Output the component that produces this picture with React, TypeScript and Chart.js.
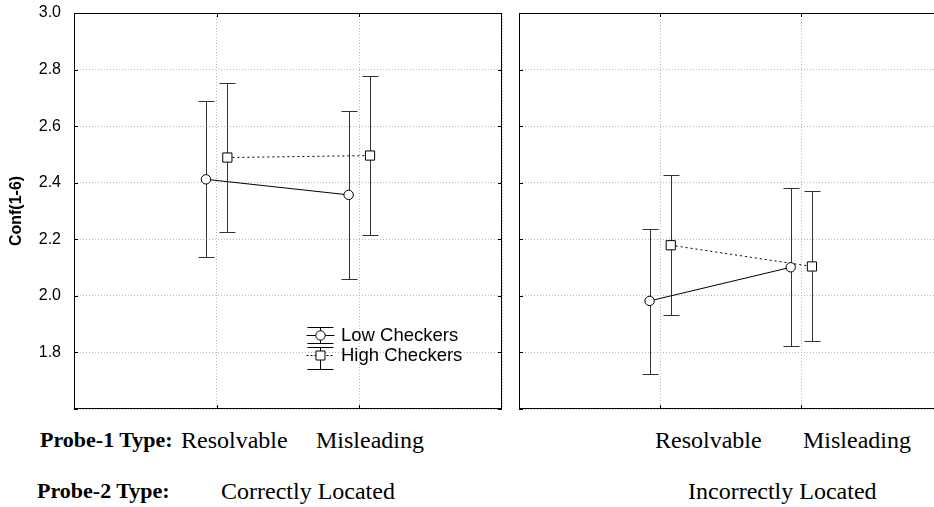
import React, { useEffect, useRef } from 'react';
import { Chart, registerables } from 'chart.js';

Chart.register(...registerables);

// ---- data ----
const categories = ['Resolvable', 'Misleading'];
const panels = ['Correctly Located', 'Incorrectly Located'];
const seriesNames = ['Low Checkers', 'High Checkers'];
const probe1Label = 'Probe-1 Type:';
const probe2Label = 'Probe-2 Type:';
const yLabel = 'Conf(1-6)';
const yTicks = [1.6, 1.8, 2.0, 2.2, 2.4, 2.6, 2.8, 3.0];
const xCategoryPositions = [1, 2];

// Correctly located panel
const lowCorrectMean = [2.412, 2.357];
const lowCorrectLo = [2.137, 2.061];
const lowCorrectHi = [2.69, 2.652];
const highCorrectMean = [2.489, 2.496];
const highCorrectLo = [2.227, 2.214];
const highCorrectHi = [2.752, 2.778];

// Incorrectly located panel
const lowIncorrectMean = [1.982, 2.101];
const lowIncorrectLo = [1.722, 1.822];
const lowIncorrectHi = [2.238, 2.38];
const highIncorrectMean = [2.179, 2.104];
const highIncorrectLo = [1.932, 1.839];
const highIncorrectHi = [2.426, 2.37];

const seriesOffset = 0.075;

const errorBarPlugin = {
  id: 'errorBars',
  beforeDatasetsDraw(chart: any) {
    const ctx = chart.ctx;
    const y = chart.scales.y;
    ctx.save();
    ctx.strokeStyle = '#333';
    ctx.lineWidth = 1;
    chart.data.datasets.forEach((ds: any, di: number) => {
      const meta = chart.getDatasetMeta(di);
      meta.data.forEach((pt: any, i: number) => {
        const x = Math.round(pt.x) + 0.5;
        const yl = Math.round(y.getPixelForValue(ds.errLo[i])) + 0.5;
        const yh = Math.round(y.getPixelForValue(ds.errHi[i])) + 0.5;
        ctx.beginPath();
        ctx.moveTo(x, yl);
        ctx.lineTo(x, yh);
        ctx.moveTo(x - 8, yl);
        ctx.lineTo(x + 8, yl);
        ctx.moveTo(x - 8, yh);
        ctx.lineTo(x + 8, yh);
        ctx.stroke();
      });
    });
    ctx.restore();
  },
};

const framePlugin = {
  id: 'frame',
  afterDraw(chart: any) {
    const ctx = chart.ctx;
    const { left, right, top, bottom } = chart.chartArea;
    const xs = chart.scales.x;
    const ys = chart.scales.y;
    ctx.save();
    ctx.strokeStyle = '#000';
    ctx.lineWidth = 1;
    ctx.strokeRect(left + 0.5, top + 0.5, right - left - 1, bottom - top - 1);
    ctx.beginPath();
    xCategoryPositions.forEach((v) => {
      const px = Math.round(xs.getPixelForValue(v)) + 0.5;
      ctx.moveTo(px, top);
      ctx.lineTo(px, top + 4);
      ctx.moveTo(px, bottom);
      ctx.lineTo(px, bottom - 4);
    });
    yTicks.forEach((v) => {
      const py = Math.round(ys.getPixelForValue(v)) + 0.5;
      ctx.moveTo(left, py);
      ctx.lineTo(left + 4, py);
      ctx.moveTo(right, py);
      ctx.lineTo(right - 4, py);
    });
    ctx.stroke();
    ctx.restore();
  },
};

const legendPlugin = {
  id: 'customLegend',
  afterDraw(chart: any) {
    if (!chart.options.plugins.customLegend?.show) return;
    const ctx = chart.ctx;
    const cx = 320.5;
    const rows = [
      { cy: 335.5, top: 327.5, bot: 343.5, dash: [] as number[], shape: 'circle', text: seriesNames[0] },
      { cy: 355.5, top: 347.5, bot: 369.5, dash: [2, 2], shape: 'rect', text: seriesNames[1] },
    ];
    ctx.save();
    rows.forEach((r) => {
      ctx.strokeStyle = '#000';
      ctx.lineWidth = 1;
      ctx.setLineDash([]);
      ctx.beginPath();
      ctx.moveTo(cx, r.top);
      ctx.lineTo(cx, r.bot);
      ctx.moveTo(cx - 13, r.top);
      ctx.lineTo(cx + 13, r.top);
      ctx.moveTo(cx - 13, r.bot);
      ctx.lineTo(cx + 13, r.bot);
      ctx.stroke();
      ctx.setLineDash(r.dash);
      ctx.beginPath();
      ctx.moveTo(cx - 14, r.cy);
      ctx.lineTo(cx + 14, r.cy);
      ctx.stroke();
      ctx.setLineDash([]);
      ctx.fillStyle = '#fff';
      ctx.beginPath();
      if (r.shape === 'circle') {
        ctx.arc(cx, r.cy, 4.7, 0, Math.PI * 2);
      } else {
        ctx.rect(cx - 4.5, r.cy - 4.5, 9, 9);
      }
      ctx.fill();
      ctx.stroke();
      ctx.fillStyle = '#000';
      ctx.font = '18.5px "Liberation Sans", Arial, sans-serif';
      ctx.textBaseline = 'middle';
      ctx.textAlign = 'left';
      ctx.fillText(r.text, 341, r.cy);
    });
    ctx.restore();
  },
};

function makeConfig(
  lowMean: number[], lowLo: number[], lowHi: number[],
  highMean: number[], highLo: number[], highHi: number[],
  showYLabels: boolean, padding: any, showLegend: boolean
): any {
  const lowData = xCategoryPositions.map((c, i) => ({ x: c - seriesOffset, y: lowMean[i] }));
  const highData = xCategoryPositions.map((c, i) => ({ x: c + seriesOffset, y: highMean[i] }));
  return {
    type: 'line',
    data: {
      datasets: [
        {
          label: seriesNames[0],
          data: lowData,
          errLo: lowLo,
          errHi: lowHi,
          borderColor: '#000',
          borderWidth: 1,
          pointStyle: 'circle',
          pointRadius: 4.7,
          pointBackgroundColor: '#fff',
          pointBorderColor: '#000',
          pointBorderWidth: 1,
          tension: 0,
        },
        {
          label: seriesNames[1],
          data: highData,
          errLo: highLo,
          errHi: highHi,
          borderColor: '#000',
          borderWidth: 1,
          borderDash: [2, 3],
          pointStyle: 'rect',
          pointRadius: 6.5,
          pointBackgroundColor: '#fff',
          pointBorderColor: '#000',
          pointBorderWidth: 1,
          tension: 0,
        },
      ],
    },
    options: {
      responsive: false,
      animation: false,
      layout: { padding },
      plugins: {
        legend: { display: false },
        tooltip: { enabled: false },
        customLegend: { show: showLegend },
      },
      scales: {
        x: {
          type: 'linear',
          min: 0,
          max: 3,
          afterBuildTicks: (s: any) => {
            s.ticks = [0, ...xCategoryPositions, 3].map((v) => ({ value: v }));
          },
          ticks: { display: false },
          grid: { color: '#b8b8b8', drawTicks: false, lineWidth: 1 },
          border: { display: false, dash: [1, 2] },
          afterFit: (s: any) => {
            s.height = 0;
            s.paddingLeft = 0;
            s.paddingRight = 0;
            s.paddingTop = 0;
            s.paddingBottom = 0;
          },
        },
        y: {
          type: 'linear',
          min: 1.6,
          max: 3.0,
          afterBuildTicks: (s: any) => {
            s.ticks = yTicks.map((v) => ({ value: v }));
          },
          ticks: {
            display: showYLabels,
            color: '#000',
            padding: 13,
            font: { family: '"Liberation Sans", Arial, sans-serif', size: 16 },
            callback: (v: number) => (v < 1.7 ? '' : v.toFixed(1)),
          },
          title: {
            display: showYLabels,
            text: yLabel,
            color: '#000',
            font: { family: '"Liberation Sans", Arial, sans-serif', size: 16, weight: 'bold' },
            padding: { top: 7, bottom: 0 },
          },
          grid: { color: '#b8b8b8', drawTicks: false, lineWidth: 1 },
          border: { display: false, dash: [1, 2] },
          afterFit: (s: any) => {
            s.width = showYLabels ? 74 : 0;
            s.paddingLeft = 0;
            s.paddingRight = 0;
            s.paddingTop = 0;
            s.paddingBottom = 0;
          },
        },
      },
    },
    plugins: [errorBarPlugin, framePlugin, legendPlugin],
  };
}

const serif = '"Liberation Serif", "Times New Roman", serif';
const textBase: React.CSSProperties = {
  position: 'absolute',
  fontFamily: serif,
  fontSize: 24,
  lineHeight: '24px',
  whiteSpace: 'nowrap',
  color: '#000',
};
const boldText: React.CSSProperties = { ...textBase, fontSize: 22, lineHeight: '22px', fontWeight: 'bold' };

export default function App() {
  const leftRef = useRef<HTMLCanvasElement>(null);
  const rightRef = useRef<HTMLCanvasElement>(null);

  useEffect(() => {
    const c1 = new Chart(
      leftRef.current as HTMLCanvasElement,
      makeConfig(lowCorrectMean, lowCorrectLo, lowCorrectHi, highCorrectMean, highCorrectLo, highCorrectHi,
        true, { left: 0, top: 13, right: 8, bottom: 11 }, true)
    );
    const c2 = new Chart(
      rightRef.current as HTMLCanvasElement,
      makeConfig(lowIncorrectMean, lowIncorrectLo, lowIncorrectHi, highIncorrectMean, highIncorrectLo, highIncorrectHi,
        false, { left: 9, top: 13, right: 4, bottom: 11 }, false)
    );
    return () => {
      c1.destroy();
      c2.destroy();
    };
  }, []);

  return (
    <div style={{ position: 'absolute', left: 0, top: 0, width: 934, height: 507, overflow: 'hidden', background: '#fff' }}>
      <canvas ref={leftRef} width={510} height={420} style={{ position: 'absolute', left: 0, top: 0, width: 510, height: 420 }} />
      <canvas ref={rightRef} width={440} height={420} style={{ position: 'absolute', left: 510, top: 0, width: 440, height: 420 }} />
      <div style={{ ...boldText, left: 40, top: 429 }}>{probe1Label}</div>
      <div style={{ ...textBase, left: 181, top: 428 }}>{categories[0]}</div>
      <div style={{ ...textBase, left: 316, top: 428 }}>{categories[1]}</div>
      <div style={{ ...textBase, left: 655, top: 428 }}>{categories[0]}</div>
      <div style={{ ...textBase, left: 803, top: 428 }}>{categories[1]}</div>
      <div style={{ ...boldText, left: 37, top: 480 }}>{probe2Label}</div>
      <div style={{ ...textBase, left: 221, top: 479 }}>{panels[0]}</div>
      <div style={{ ...textBase, left: 688, top: 479 }}>{panels[1]}</div>
    </div>
  );
}
